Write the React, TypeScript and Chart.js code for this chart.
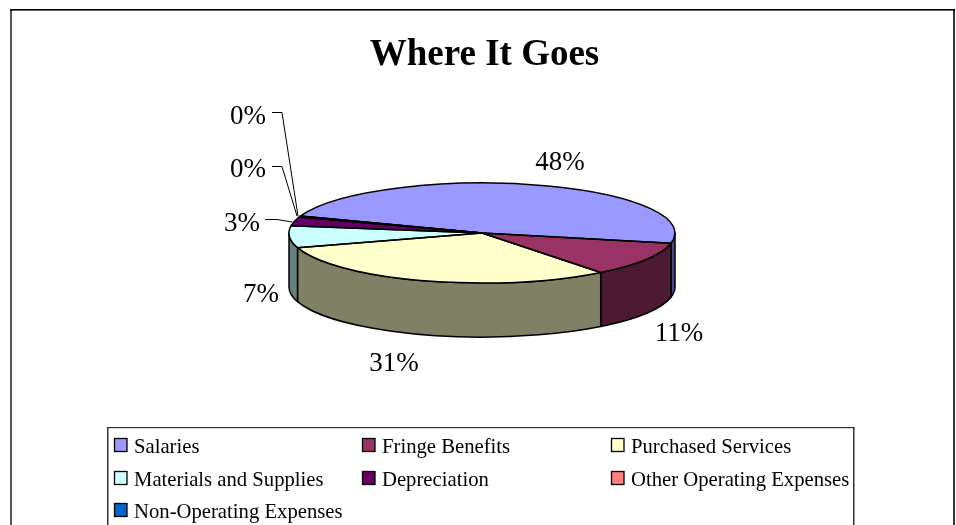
import React, { useEffect, useRef } from "react";
import { Chart, registerables } from "chart.js";

Chart.register(...registerables);

const categories = [
  "Salaries",
  "Fringe Benefits",
  "Purchased Services",
  "Materials and Supplies",
  "Depreciation",
  "Other Operating Expenses",
  "Non-Operating Expenses",
];
const shares = [47.7, 11.2, 30.8, 7.1, 2.8, 0.25, 0.15];
const sliceColors = ["#9999FF", "#993366", "#FFFFCC", "#CCFFFF", "#660066", "#FF8080", "#0066CC"];
const wallColors = ["#4C4C80", "#4D1A33", "#808066", "#668080", "#330033", "#804040", "#003366"];
const chartTitle = "Where It Goes";

const SERIF = '"Liberation Serif", serif';
const CX = 482;
const CY = 233;
const RX = 193;
const RY = 50;
const DEPTH = 54;
const K = RY / RX;

const labelSpots: [number, number][] = [
  [560, 163],
  [679, 334],
  [394, 364],
  [261, 295],
  [242, 224],
  [248, 170],
  [248, 117],
];
const leaders: [number, number][][] = [
  [],
  [],
  [],
  [],
  [[265, 219.5], [277, 219.5], [292, 222]],
  [[272, 166.5], [282, 166.5], [297, 216]],
  [[272, 112.5], [282, 112.5], [298, 216]],
];

const legendCols = [114, 362, 611];
const legendRows = [445, 478, 510];

const pie3d = {
  id: "pie3d",
  beforeDraw(chart: any) {
    const c = chart.ctx;
    c.save();
    c.fillStyle = "#fff";
    c.fillRect(0, 0, chart.width, chart.height);
    c.fillStyle = "#555";
    c.fillRect(10, 9, 2, 516);
    c.fillStyle = "#333";
    c.fillRect(953, 9, 2, 516);
    c.fillStyle = "#000";
    c.fillRect(10, 9, 945, 1.6);
    c.textAlign = "center";
    c.textBaseline = "alphabetic";
    c.font = `bold 37px ${SERIF}`;
    c.fillText(chartTitle, 484.5, 65);
    c.restore();
  },
  beforeDatasetDraw(chart: any) {
    const c = chart.ctx;
    const arcs = chart.getDatasetMeta(0).data;
    const a0 = arcs[0];
    const cx = a0.x;
    const cy = a0.y;
    const rx = a0.outerRadius;
    const ry = rx * K;
    c.save();
    c.lineWidth = 1.5;
    c.strokeStyle = "#000";
    c.lineJoin = "round";
    arcs.forEach((arc: any, i: number) => {
      const s = arc.startAngle;
      const e = arc.endAngle;
      for (let k = -1; k <= 2; k++) {
        const lo = Math.max(s, k * 2 * Math.PI);
        const hi = Math.min(e, k * 2 * Math.PI + Math.PI);
        if (hi <= lo) continue;
        c.beginPath();
        c.ellipse(cx, cy, rx, ry, 0, lo, hi);
        c.lineTo(cx + rx * Math.cos(hi), cy + ry * Math.sin(hi) + DEPTH);
        c.ellipse(cx, cy + DEPTH, rx, ry, 0, hi, lo, true);
        c.closePath();
        c.fillStyle = wallColors[i];
        c.fill();
        c.stroke();
      }
    });
    c.restore();
    c.save();
    c.translate(cx, cy);
    c.scale(1, K);
    c.translate(-cx, -cy);
  },
  afterDatasetDraw(chart: any) {
    const c = chart.ctx;
    c.restore();
    const arcs = chart.getDatasetMeta(0).data;
    c.save();
    c.lineWidth = 1.5;
    c.strokeStyle = "#000";
    c.lineJoin = "round";
    arcs.forEach((arc: any) => {
      c.beginPath();
      c.moveTo(arc.x, arc.y);
      c.ellipse(arc.x, arc.y, arc.outerRadius, arc.outerRadius * K, 0, arc.startAngle, arc.endAngle);
      c.closePath();
      c.stroke();
    });
    c.restore();
  },
  afterDraw(chart: any) {
    const c = chart.ctx;
    const values: number[] = chart.data.datasets[0].data;
    const total = values.reduce((a, b) => a + b, 0);
    c.save();
    c.strokeStyle = "#000";
    c.lineWidth = 1;
    leaders.forEach((pts) => {
      if (!pts.length) return;
      c.beginPath();
      pts.forEach(([x, y], j) => (j ? c.lineTo(x, y) : c.moveTo(x, y)));
      c.stroke();
    });
    c.fillStyle = "#000";
    c.font = `27px ${SERIF}`;
    c.textAlign = "center";
    c.textBaseline = "middle";
    values.forEach((v, i) => {
      const [x, y] = labelSpots[i];
      c.fillText(`${Math.round((v / total) * 100)}%`, x, y);
    });
    // legend
    c.fillStyle = "#333";
    c.fillRect(107, 427, 1.5, 98);
    c.fillRect(853, 427, 1.5, 98);
    c.fillRect(107, 427, 747.5, 1.2);
    c.font = `20.7px ${SERIF}`;
    c.textAlign = "left";
    c.textBaseline = "alphabetic";
    chart.data.labels.forEach((name: string, i: number) => {
      const x = legendCols[i % 3];
      const y = legendRows[Math.floor(i / 3)];
      c.fillStyle = sliceColors[i];
      c.fillRect(x, y - 6.5, 13, 13);
      c.strokeStyle = "#000";
      c.lineWidth = 1.3;
      c.strokeRect(x + 0.5, y - 6.5, 12.5, 13);
      c.fillStyle = "#000";
      c.fillText(name, x + 20, y + 8);
    });
    c.restore();
  },
};

export default function App() {
  const ref = useRef<HTMLCanvasElement>(null);
  useEffect(() => {
    const chart = new Chart(ref.current!, {
      type: "pie",
      data: {
        labels: categories,
        datasets: [
          {
            data: shares,
            backgroundColor: sliceColors,
            borderWidth: 0,
            clip: false,
          } as any,
        ],
      },
      options: {
        animation: false,
        responsive: false,
        events: [],
        rotation: 290,
        layout: {
          padding: { left: CX - RX, right: 956 - CX - RX, top: CY - RX, bottom: 525 - CY - RX },
        },
        plugins: { legend: { display: false }, title: { display: false }, tooltip: { enabled: false } },
      },
      plugins: [pie3d],
    });
    return () => chart.destroy();
  }, []);
  return (
    <canvas
      ref={ref}
      width={956}
      height={525}
      style={{ position: "absolute", left: 0, top: 0, width: 956, height: 525, display: "block" }}
    />
  );
}
